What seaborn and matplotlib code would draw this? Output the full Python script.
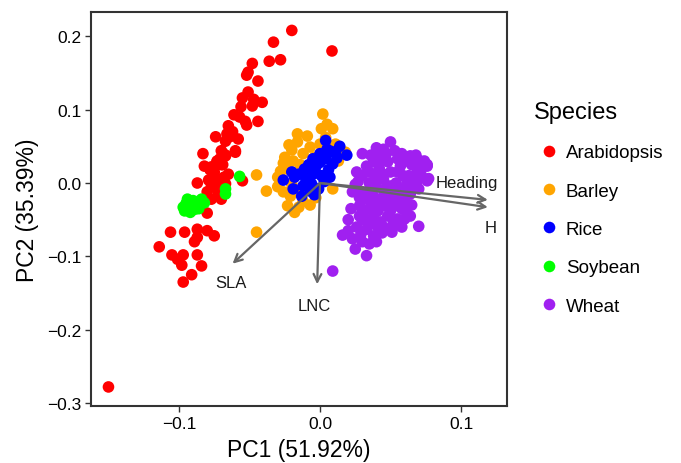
import matplotlib
matplotlib.use("Agg")
import matplotlib.pyplot as plt
import pandas as pd
import seaborn as sns

# PC scores, one list per species
arabidopsis = [(-0.150, -0.278), (-0.020, 0.208), (-0.033, 0.192), (0.0085, 0.180), (-0.036, 0.166),
               (-0.028, 0.168), (-0.048, 0.163), (-0.051, 0.151), (-0.052, 0.147), (-0.044, 0.139),
               (-0.051, 0.124), (-0.055, 0.116), (-0.047, 0.114), (-0.041, 0.110), (-0.048, 0.105),
               (-0.056, 0.104), (-0.061, 0.093), (-0.057, 0.090), (-0.053, 0.084), (-0.052, 0.079),
               (-0.044, 0.084), (-0.065, 0.078), (-0.074, 0.063), (-0.066, 0.067), (-0.064, 0.063),
               (-0.067, 0.057), (-0.070, 0.044), (-0.067, 0.038), (-0.060, 0.044), (-0.083, 0.040),
               (-0.073, 0.030), (-0.069, 0.025), (-0.082, 0.023), (-0.077, 0.022), (-0.069, 0.041),
               (-0.067, 0.037), (-0.060, 0.042), (-0.073, 0.029), (-0.070, 0.025), (-0.078, 0.018),
               (-0.065, 0.012), (-0.075, 0.010), (-0.072, 0.005), (-0.079, 0.004), (-0.087, 0.000),
               (-0.077, -0.004), (-0.073, -0.008), (-0.067, -0.001), (-0.055, 0.003), (-0.077, -0.022),
               (-0.070, -0.022), (-0.080, -0.041), (-0.106, -0.067), (-0.096, -0.067), (-0.087, -0.063),
               (-0.080, -0.065), (-0.075, -0.072), (-0.087, -0.074), (-0.089, -0.080), (-0.114, -0.087),
               (-0.105, -0.098), (-0.097, -0.098), (-0.101, -0.104), (-0.098, -0.112), (-0.087, -0.098),
               (-0.084, -0.113), (-0.091, -0.125), (-0.097, -0.135), (-0.062, 0.070), (-0.058, 0.060),
               (-0.071, 0.033), (-0.075, 0.015), (-0.068, 0.008), (-0.080, -0.012), (-0.072, -0.015)]

barley = [(0.002, 0.094), (0.005, 0.080), (0.009, 0.074), (0.001, 0.074), (-0.016, 0.067),
          (-0.009, 0.064), (-0.016, 0.056), (-0.007, 0.049), (0.000, 0.053), (0.011, 0.053),
          (0.018, 0.042), (-0.025, 0.035), (-0.019, 0.030), (-0.012, 0.040), (-0.023, 0.019),
          (-0.028, 0.016), (-0.038, -0.011), (-0.030, -0.005), (-0.021, -0.018), (-0.023, -0.031),
          (-0.018, -0.040), (-0.007, -0.030), (0.009, -0.008), (-0.045, -0.067), (-0.045, 0.011),
          (-0.020, 0.045), (-0.014, 0.025), (-0.026, 0.027), (-0.010, 0.015), (-0.030, 0.008),
          (-0.020, -0.002), (-0.012, -0.025), (-0.003, -0.020), (-0.016, -0.010), (0.004, 0.062),
          (-0.004, 0.035), (0.013, 0.030), (-0.022, 0.052), (-0.026, -0.012), (-0.015, -0.033)]

rice = [(0.005, 0.046), (0.011, 0.042), (0.014, 0.050), (0.019, 0.038), (-0.005, 0.033),
        (0.004, 0.033), (0.009, 0.026), (-0.011, 0.019), (-0.005, 0.012), (0.001, 0.010),
        (0.007, 0.008), (-0.026, 0.004), (-0.018, 0.008), (-0.019, -0.008), (-0.012, -0.004),
        (-0.006, -0.001), (-0.013, -0.018), (-0.007, -0.011), (-0.001, -0.008), (0.004, 0.058),
        (0.000, 0.040), (-0.008, 0.025), (0.006, 0.018), (-0.015, 0.012), (-0.003, 0.022),
        (0.012, 0.034), (-0.010, 0.005), (0.003, 0.002), (-0.004, -0.016), (0.008, 0.043),
        (-0.020, 0.015), (0.000, 0.028)]

soybean = [(-0.094, -0.022), (-0.090, -0.024), (-0.084, -0.022), (-0.082, -0.027), (-0.097, -0.033),
           (-0.092, -0.040), (-0.087, -0.031), (-0.096, -0.038), (-0.086, -0.035), (-0.090, -0.029),
           (-0.093, -0.034), (-0.089, -0.036), (-0.095, -0.028), (-0.067, -0.008), (-0.067, -0.015),
           (-0.057, 0.009)]

wheat = [(0.050, 0.056), (0.045, 0.046), (0.043, 0.037), (0.064, 0.037), (0.070, 0.031),
         (0.076, 0.025), (0.033, 0.023), (0.038, 0.029), (0.048, 0.029), (0.057, 0.023),
         (0.030, 0.010), (0.039, 0.010), (0.050, 0.015), (0.059, 0.010), (0.069, 0.016),
         (0.076, 0.003), (0.069, 0.003), (0.023, -0.012), (0.030, -0.012), (0.038, -0.018),
         (0.048, -0.015), (0.057, -0.018), (0.064, -0.015), (0.028, -0.031), (0.035, -0.035),
         (0.045, -0.031), (0.055, -0.031), (0.028, -0.045), (0.038, -0.046), (0.048, -0.045),
         (0.055, -0.049), (0.060, -0.049), (0.070, -0.059), (0.026, -0.060), (0.033, -0.063),
         (0.051, -0.063), (0.051, -0.067), (0.016, -0.071), (0.023, -0.076), (0.038, -0.072),
         (0.035, -0.083), (0.025, -0.090), (0.033, -0.099), (0.009, -0.120), (0.076, 0.023),
         (0.077, 0.006), (0.042, 0.020), (0.045, 0.005), (0.035, 0.000), (0.054, 0.000),
         (0.062, 0.002), (0.040, -0.005), (0.050, -0.004), (0.033, -0.022), (0.043, -0.022),
         (0.052, -0.024), (0.060, -0.025), (0.031, -0.040), (0.041, -0.038), (0.050, -0.038),
         (0.043, -0.053), (0.034, -0.052), (0.029, -0.070), (0.045, -0.060), (0.047, 0.040),
         (0.055, 0.033), (0.036, 0.038), (0.053, 0.044), (0.065, 0.025), (0.061, -0.038),
         (0.065, -0.005), (0.027, 0.002), (0.030, 0.040), (0.040, 0.048), (0.058, 0.040),
         (0.062, 0.030), (0.072, 0.020), (0.026, 0.015), (0.035, 0.015), (0.045, 0.012),
         (0.055, 0.015), (0.063, 0.010), (0.072, 0.010), (0.025, -0.002), (0.040, 0.002),
         (0.058, -0.008), (0.070, -0.008), (0.028, -0.020), (0.038, -0.028), (0.048, -0.028),
         (0.058, -0.035), (0.065, -0.030), (0.022, -0.035), (0.030, -0.050), (0.040, -0.058),
         (0.052, -0.055), (0.058, -0.060), (0.020, -0.050), (0.044, -0.068), (0.030, -0.080),
         (0.040, -0.080), (0.020, -0.065), (0.064, -0.045), (0.035, -0.010), (0.045, -0.010),
         (0.053, -0.010), (0.042, 0.030), (0.068, 0.038), (0.074, 0.030)]

species_names = ["Arabidopsis", "Barley", "Rice", "Soybean", "Wheat"]
species_colors = ["#FF0000", "#FFA500", "#0000FF", "#00FF00", "#A020F0"]

# loading arrows
loading_names = ["Heading", "H", "SLA", "LNC"]
loading_x = [0.119, 0.119, -0.062, -0.002]
loading_y = [-0.023, -0.033, -0.110, -0.138]
label_x = [0.104, 0.121, -0.063, -0.004]
label_y = [0.001, -0.060, -0.136, -0.167]

rows = []
for name, pts in zip(species_names, [arabidopsis, barley, rice, soybean, wheat]):
    for x, y in pts:
        rows.append({"PC1": x, "PC2": y, "Species": name})
df = pd.DataFrame(rows)

sns.set_style("white")
plt.rcParams["font.family"] = ["Liberation Sans", "DejaVu Sans"]
plt.rcParams["text.color"] = "black"
plt.rcParams["axes.labelcolor"] = "black"

fig = plt.figure(figsize=(6.81, 4.64), dpi=100)
ax = fig.add_axes([0.1336, 0.1228, 0.6109, 0.849])

sns.scatterplot(data=df, x="PC1", y="PC2", hue="Species", hue_order=species_names,
                palette=dict(zip(species_names, species_colors)), s=70, linewidth=0,
                ax=ax, legend=True)

for i in range(len(loading_names)):
    ax.annotate("", xy=(loading_x[i], loading_y[i]), xytext=(0, 0),
                arrowprops=dict(arrowstyle="->", color="#666666", lw=1.6, mutation_scale=14,
                                shrinkA=0, shrinkB=0))
    ax.text(label_x[i], label_y[i], loading_names[i], fontsize=12, color="#1a1a1a",
            ha="center", va="center")

ax.set_xlim(-0.1624, 0.1326)
ax.set_ylim(-0.304, 0.233)
ax.set_xticks([-0.1, 0.0, 0.1])
ax.set_yticks([-0.3, -0.2, -0.1, 0.0, 0.1, 0.2])
ax.set_xticklabels(["\u22120.1", "0.0", "0.1"])
ax.set_yticklabels(["\u22120.3", "\u22120.2", "\u22120.1", "0.0", "0.1", "0.2"])
ax.tick_params(axis="both", direction="out", length=4, width=1, color="#333333",
               labelsize=12.5, labelcolor="black", left=True, bottom=True, pad=3)
for sp in ax.spines.values():
    sp.set_color("#333333")
    sp.set_linewidth(1.5)

ax.set_xlabel("PC1 (51.92%)", fontsize=16.5, labelpad=5, color="black")
ax.set_ylabel("PC2 (35.39%)", fontsize=16.5, labelpad=6, color="black")

leg = ax.legend(title="Species", loc="upper left", bbox_to_anchor=(0.784, 0.780),
                bbox_transform=fig.transFigure, frameon=False, fontsize=13.5,
                title_fontsize=17, labelspacing=1.13, handlelength=1.6, handletextpad=0.1,
                markerscale=1.0, borderaxespad=0, borderpad=0, labelcolor="black")
leg.get_title().set_color("black")
leg._legend_box.align = "left"

fig.savefig("out.png", dpi=100)
